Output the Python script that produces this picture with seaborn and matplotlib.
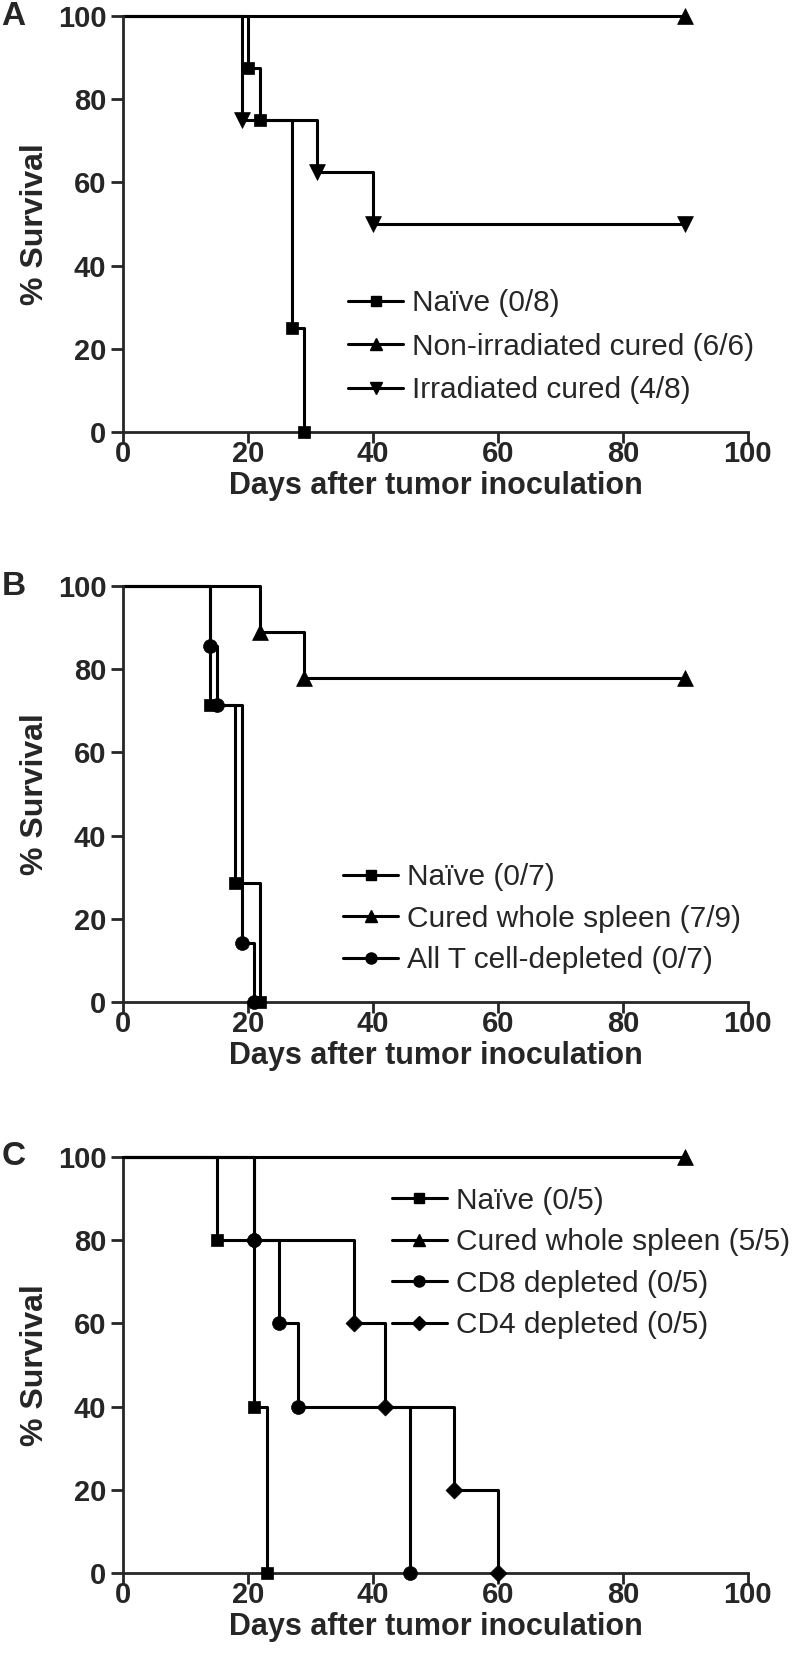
import matplotlib
matplotlib.use("Agg")
import matplotlib.pyplot as plt
import seaborn as sns
import pandas as pd
from matplotlib.lines import Line2D

sns.set_style("ticks")
plt.rcParams["font.family"] = ["Liberation Sans", "DejaVu Sans"]
plt.rcParams["font.weight"] = "bold"

# -----------------------------
# Data (Kaplan-Meier steps: day, % survival)
# -----------------------------
# Panel A
a_naive_days = [0, 20, 22, 27, 29]
a_naive_surv = [100, 87.5, 75, 25, 0]
a_nonirr_days = [0, 90]
a_nonirr_surv = [100, 100]
a_irr_days = [0, 19, 31, 40, 90]
a_irr_surv = [100, 75, 62.5, 50, 50]
a_labels = ["Naïve (0/8)", "Non-irradiated cured (6/6)", "Irradiated cured (4/8)"]

# Panel B
b_naive_days = [0, 14, 18, 22]
b_naive_surv = [100, 71.4, 28.6, 0]
b_cured_days = [0, 22, 29, 90]
b_cured_surv = [100, 88.9, 77.8, 77.8]
b_allt_days = [0, 14, 15, 19, 21]
b_allt_surv = [100, 85.7, 71.4, 14.3, 0]
b_labels = ["Naïve (0/7)", "Cured whole spleen (7/9)", "All T cell-depleted (0/7)"]

# Panel C
c_naive_days = [0, 15, 21, 23]
c_naive_surv = [100, 80, 40, 0]
c_cured_days = [0, 90]
c_cured_surv = [100, 100]
c_cd8_days = [0, 21, 25, 28, 46]
c_cd8_surv = [100, 80, 60, 40, 0]
c_cd4_days = [0, 21, 37, 42, 53, 60]
c_cd4_surv = [100, 80, 60, 40, 20, 0]
c_labels = ["Naïve (0/5)", "Cured whole spleen (5/5)", "CD8 depleted (0/5)", "CD4 depleted (0/5)"]

ticks = [0, 20, 40, 60, 80, 100]

MARK = {"s": ("s", 85, 7), "^": ("^", 130, 9), "v": ("v", 130, 9),
        "o": ("o", 100, 8), "D": ("D", 75, 7)}
LW = 2.2


def draw(ax, days, surv, marker, z=2):
    df = pd.DataFrame({"day": days, "surv": surv})
    m, s, _ = MARK[marker]
    sns.lineplot(data=df, x="day", y="surv", ax=ax, drawstyle="steps-post",
                 color="black", lw=LW, estimator=None, sort=False,
                 clip_on=False, zorder=z)
    sns.scatterplot(data=df.iloc[1:], x="day", y="surv", ax=ax, marker=m, s=s,
                    color="black", edgecolor="black", linewidth=0.5,
                    clip_on=False, zorder=z + 1)


def style(ax, letter, markers, labels, leg_x, leg_y, spacing):
    ax.set_xlim(0, 100)
    ax.set_ylim(0, 100)
    ax.set_xticks(ticks)
    ax.set_yticks(ticks)
    sns.despine(ax=ax)
    for sp in ["left", "bottom"]:
        ax.spines[sp].set_linewidth(2)
    ax.tick_params(width=2, length=9, direction="out", labelsize=21)
    ax.tick_params(axis="y", pad=3)
    ax.tick_params(axis="x", length=8, pad=-2)
    ax.set_xlabel("Days after tumor inoculation", fontsize=22, fontweight="bold")
    ax.set_ylabel("% Survival", fontsize=23, fontweight="bold")
    ax.xaxis.set_label_coords(0.5, -0.093)
    ax.yaxis.set_label_coords(-0.117, 0.5)
    handles = [Line2D([], [], color="black", lw=LW, marker=MARK[m][0],
                      markersize=MARK[m][2]) for m in markers]
    ax.legend(handles, labels, loc="center left", bbox_to_anchor=(leg_x, leg_y),
              frameon=False, prop={"size": 21.5, "weight": "normal"},
              handlelength=1.85, handletextpad=0.3, labelspacing=spacing,
              borderpad=0, borderaxespad=0)
    ax.text(-0.175, 1.0, letter, transform=ax.transAxes, fontsize=24,
            fontweight="bold", ha="center", va="center")


fig = plt.figure(figsize=(7.96, 16.76), dpi=100)
left, width, height = 0.1545, 0.785, 0.2482
ax_a = fig.add_axes([left, 0.7422, width, height])
ax_b = fig.add_axes([left, 0.4021, width, height])
ax_c = fig.add_axes([left, 0.0615, width, height])

# A
draw(ax_a, a_naive_days, a_naive_surv, "s")
draw(ax_a, a_nonirr_days, a_nonirr_surv, "^")
draw(ax_a, a_irr_days, a_irr_surv, "v")
style(ax_a, "A", ["s", "^", "v"], a_labels, 0.36, 0.205, 0.52)

# B
draw(ax_b, b_naive_days, b_naive_surv, "s")
draw(ax_b, b_cured_days, b_cured_surv, "^")
draw(ax_b, b_allt_days, b_allt_surv, "o")
style(ax_b, "B", ["s", "^", "o"], b_labels, 0.352, 0.20, 0.45)

# C
draw(ax_c, c_naive_days, c_naive_surv, "s")
draw(ax_c, c_cured_days, c_cured_surv, "^")
draw(ax_c, c_cd4_days, c_cd4_surv, "D")
draw(ax_c, c_cd8_days, c_cd8_surv, "o", z=4)
style(ax_c, "C", ["s", "^", "o", "D"], c_labels, 0.43, 0.745, 0.45)

fig.savefig("out.png", dpi=100)
plt.close(fig)
